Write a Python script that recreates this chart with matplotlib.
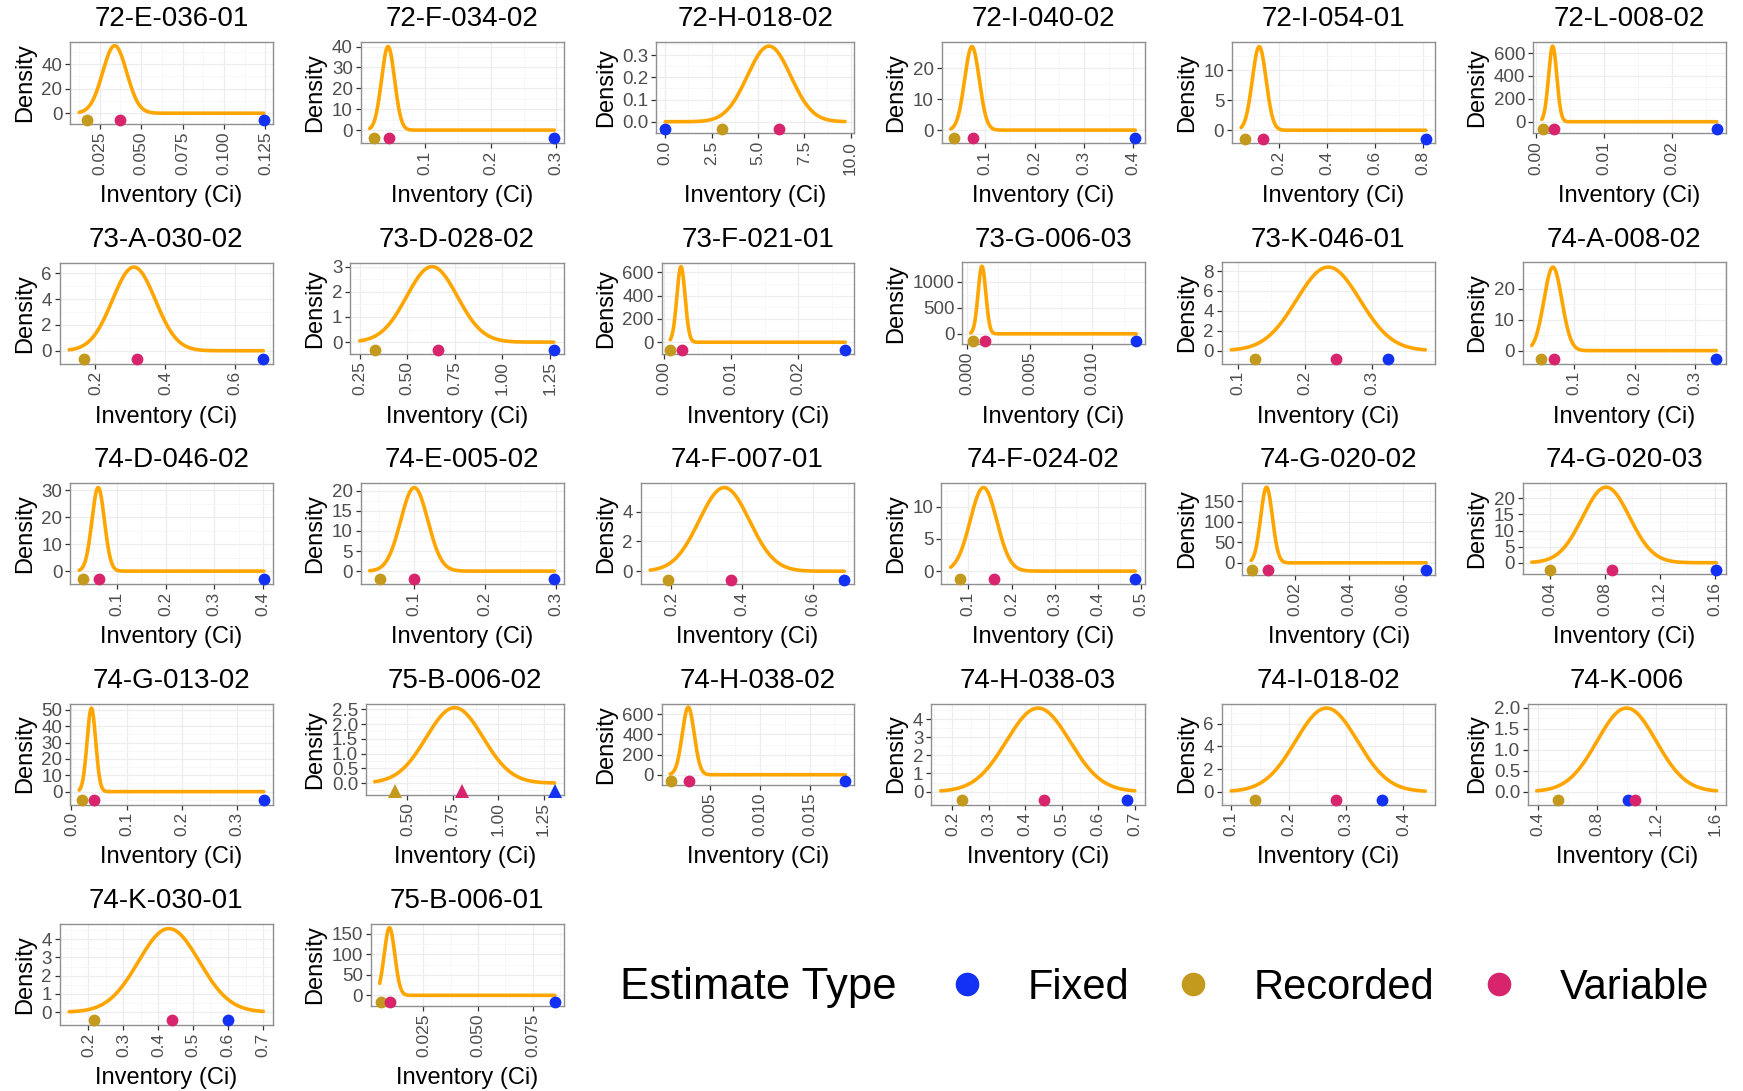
import numpy as np
import matplotlib
matplotlib.use("Agg")
import matplotlib.pyplot as plt
from matplotlib.lines import Line2D

plt.rcParams['font.family'] = ['Liberation Sans', 'DejaVu Sans']

# ---------------- data ----------------
panel_names = ["72-E-036-01", "72-F-034-02", "72-H-018-02", "72-I-040-02", "72-I-054-01", "72-L-008-02",
               "73-A-030-02", "73-D-028-02", "73-F-021-01", "73-G-006-03", "73-K-046-01", "74-A-008-02",
               "74-D-046-02", "74-E-005-02", "74-F-007-01", "74-F-024-02", "74-G-020-02", "74-G-020-03",
               "74-G-013-02", "75-B-006-02", "74-H-038-02", "74-H-038-03", "74-I-018-02", "74-K-006",
               "74-K-030-01", "75-B-006-01"]

# normal density curve parameters (mean, sd) and the range it is drawn over
curve_mean = [0.034, 0.043, 5.6, 0.073, 0.12, 0.0025,
              0.31, 0.63, 0.0025, 0.0012, 0.235, 0.065,
              0.061, 0.10, 0.35, 0.135, 0.0095, 0.081,
              0.036, 0.76, 0.0028, 0.435, 0.266, 1.0,
              0.43, 0.0095]
curve_sd = [0.00725, 0.00997, 1.17, 0.0148, 0.0285, 0.000604,
            0.0614, 0.133, 0.000614, 0.000307, 0.0475, 0.0148,
            0.0129, 0.0192, 0.0712, 0.0307, 0.00216, 0.017,
            0.0078, 0.156, 0.000595, 0.0867, 0.0539, 0.2,
            0.087, 0.00242]
curve_lo = [0.0126, 0.015, 0.0, 0.03, 0.045, 0.0009,
            0.125, 0.25, 0.0009, 0.0003, 0.09, 0.03,
            0.022, 0.037, 0.14, 0.059, 0.0038, 0.027,
            0.014, 0.32, 0.001, 0.168, 0.10, 0.39,
            0.145, 0.005]
curve_hi = [0.124, 0.297, 9.7, 0.404, 0.81, 0.0265,
            0.68, 1.27, 0.027, 0.0135, 0.38, 0.335,
            0.402, 0.298, 0.69, 0.486, 0.0685, 0.161,
            0.348, 1.31, 0.0185, 0.70, 0.438, 1.61,
            0.70, 0.085]

# point estimates
fixed_est = [0.124, 0.297, 0.0, 0.404, 0.81, 0.0265,
             0.68, 1.27, 0.027, 0.0135, 0.325, 0.335,
             0.402, 0.298, 0.69, 0.486, 0.0685, 0.161,
             0.348, 1.31, 0.0185, 0.679, 0.362, 1.01,
             0.60, 0.085]
recorded_est = [0.0174, 0.0212, 3.06, 0.0376, 0.06, 0.00106,
                0.167, 0.33, 0.0009, 0.00048, 0.125, 0.045,
                0.029, 0.051, 0.19, 0.08, 0.0041, 0.04,
                0.019, 0.43, 0.00112, 0.227, 0.141, 0.536,
                0.216, 0.0055]
variable_est = [0.0374, 0.045, 6.13, 0.076, 0.135, 0.00265,
                0.318, 0.66, 0.0027, 0.00143, 0.246, 0.067,
                0.063, 0.10, 0.37, 0.159, 0.010, 0.085,
                0.040, 0.80, 0.0029, 0.451, 0.282, 1.06,
                0.44, 0.0098]

x_ticks = [[0.025, 0.05, 0.075, 0.1, 0.125], [0.1, 0.2, 0.3], [0, 2.5, 5, 7.5, 10],
           [0.1, 0.2, 0.3, 0.4], [0.2, 0.4, 0.6, 0.8], [0, 0.01, 0.02],
           [0.2, 0.4, 0.6], [0.25, 0.5, 0.75, 1.0, 1.25], [0, 0.01, 0.02],
           [0, 0.005, 0.01], [0.1, 0.2, 0.3], [0.1, 0.2, 0.3],
           [0.1, 0.2, 0.3, 0.4], [0.1, 0.2, 0.3], [0.2, 0.4, 0.6],
           [0.1, 0.2, 0.3, 0.4, 0.5], [0.02, 0.04, 0.06], [0.04, 0.08, 0.12, 0.16],
           [0, 0.1, 0.2, 0.3], [0.5, 0.75, 1.0, 1.25], [0.005, 0.01, 0.015],
           [0.2, 0.3, 0.4, 0.5, 0.6, 0.7], [0.1, 0.2, 0.3, 0.4], [0.4, 0.8, 1.2, 1.6],
           [0.2, 0.3, 0.4, 0.5, 0.6, 0.7], [0.025, 0.05, 0.075]]
y_ticks = [[0, 20, 40], [0, 10, 20, 30, 40], [0, 0.1, 0.2, 0.3],
           [0, 10, 20], [0, 5, 10], [0, 200, 400, 600],
           [0, 2, 4, 6], [0, 1, 2, 3], [0, 200, 400, 600],
           [0, 500, 1000], [0, 2, 4, 6, 8], [0, 10, 20],
           [0, 10, 20, 30], [0, 5, 10, 15, 20], [0, 2, 4],
           [0, 5, 10], [0, 50, 100, 150], [0, 5, 10, 15, 20],
           [0, 10, 20, 30, 40, 50], [0, 0.5, 1.0, 1.5, 2.0, 2.5], [0, 200, 400, 600],
           [0, 1, 2, 3, 4], [0, 2, 4, 6], [0, 0.5, 1.0, 1.5, 2.0],
           [0, 1, 2, 3, 4], [0, 50, 100, 150]]

estimate_types = ["Fixed", "Recorded", "Variable"]

# ---------------- style ----------------
type_colors = {"Fixed": "#1231F2", "Recorded": "#C49A1E", "Variable": "#D7246C"}
triangle_panels = {"75-B-006-02"}
CURVE = "#FFA500"
W, H = 1743, 1091


def fmt_ticks(vals):
    d = 0
    for d in range(0, 7):
        if all(abs(round(v, d) - v) < 1e-12 for v in vals):
            break
    return [f"{v:.{d}f}" for v in vals]


def minor_of(ticks):
    if len(ticks) < 2:
        return []
    step = ticks[1] - ticks[0]
    return [ticks[0] - step / 2] + [t + step / 2 for t in ticks]


fig = plt.figure(figsize=(W / 100, H / 100), dpi=100)
axes = []
for i, name in enumerate(panel_names):
    ax = fig.add_axes([0.1, 0.1, 0.1, 0.1])
    xs = np.linspace(curve_lo[i], curve_hi[i], 500)
    dens = np.exp(-0.5 * ((xs - curve_mean[i]) / curve_sd[i]) ** 2) / (curve_sd[i] * np.sqrt(2 * np.pi))
    ax.plot(xs, dens, color=CURVE, lw=2.6, zorder=3, solid_capstyle='round')
    peak = dens.max()
    y_pt = -0.1 * peak
    marker = '^' if name in triangle_panels else 'o'
    for t, vals in zip(estimate_types, [fixed_est, recorded_est, variable_est]):
        ax.plot([vals[i]], [y_pt], marker=marker, ls='none', color=type_colors[t],
                ms=8.5 if marker == 'o' else 9.5, mew=0, clip_on=False, zorder=4)
    allx = [curve_lo[i], curve_hi[i], fixed_est[i], recorded_est[i], variable_est[i]]
    xmin, xmax = min(allx), max(allx)
    sp = xmax - xmin
    ys = peak - y_pt

    ax.set_xticks(x_ticks[i])
    ax.set_xticklabels(fmt_ticks(x_ticks[i]), rotation=90)
    ax.set_yticks(y_ticks[i])
    ax.set_yticklabels(fmt_ticks(y_ticks[i]))
    ax.set_xticks(minor_of(x_ticks[i]), minor=True)
    ax.set_yticks(minor_of(y_ticks[i]), minor=True)
    ax.set_xlim(xmin - 0.05 * sp, xmax + 0.05 * sp)
    ax.set_ylim(y_pt - 0.05 * ys, peak + 0.05 * ys)

    ax.grid(which='major', color='#EDEDED', lw=0.9, zorder=0)
    ax.grid(which='minor', color='#F6F6F6', lw=0.6, zorder=0)
    ax.set_axisbelow(True)
    for s in ax.spines.values():
        s.set_color('#8F8F8F')
        s.set_linewidth(1.0)
    ax.tick_params(which='major', length=3.5, width=0.9, color='#333333',
                   labelcolor='#4D4D4D', pad=2)
    ax.tick_params(axis='x', which='major', labelsize=12.5)
    ax.tick_params(axis='y', which='major', labelsize=13.5)
    ax.tick_params(which='minor', length=0)
    ax.set_ylabel("Density", fontsize=17, labelpad=4)
    ax.set_title(name, fontsize=20, pad=11.5)
    axes.append(ax)

fig.canvas.draw()
rend = fig.canvas.get_renderer()
for i, ax in enumerate(axes):
    row, col = divmod(i, 6)
    yw = max(t.get_window_extent(rend).width for t in ax.get_yticklabels() if t.get_text())
    xh = max(t.get_window_extent(rend).height for t in ax.get_xticklabels() if t.get_text())
    left = col * 290.5 + 49 + yw
    right = col * 290.5 + 273
    top = 42 + row * 220.5
    xl_y = 196 + row * 220.5
    bottom = xl_y - 21 - xh - 7.7
    ax.set_position([left / W, 1 - bottom / H, (right - left) / W, (bottom - top) / H])
    fig.text((left + right) / 2 / W, 1 - xl_y / H, "Inventory (Ci)",
             ha='center', va='center', fontsize=17)

handles = [Line2D([], [], marker='o', ls='none', color=type_colors[t], ms=17, mew=0)
           for t in estimate_types]
fig.legend(handles, estimate_types, loc='center left', bbox_to_anchor=(946 / W, 1 - 988 / H),
           ncol=3, frameon=False, fontsize=30, handlelength=1.0, handletextpad=0.95,
           columnspacing=1.05, borderpad=0, borderaxespad=0)
fig.text(620 / W, 1 - 988 / H, "Estimate Type", fontsize=31.5, va='center', ha='left')

fig.savefig("out.png", dpi=100)
